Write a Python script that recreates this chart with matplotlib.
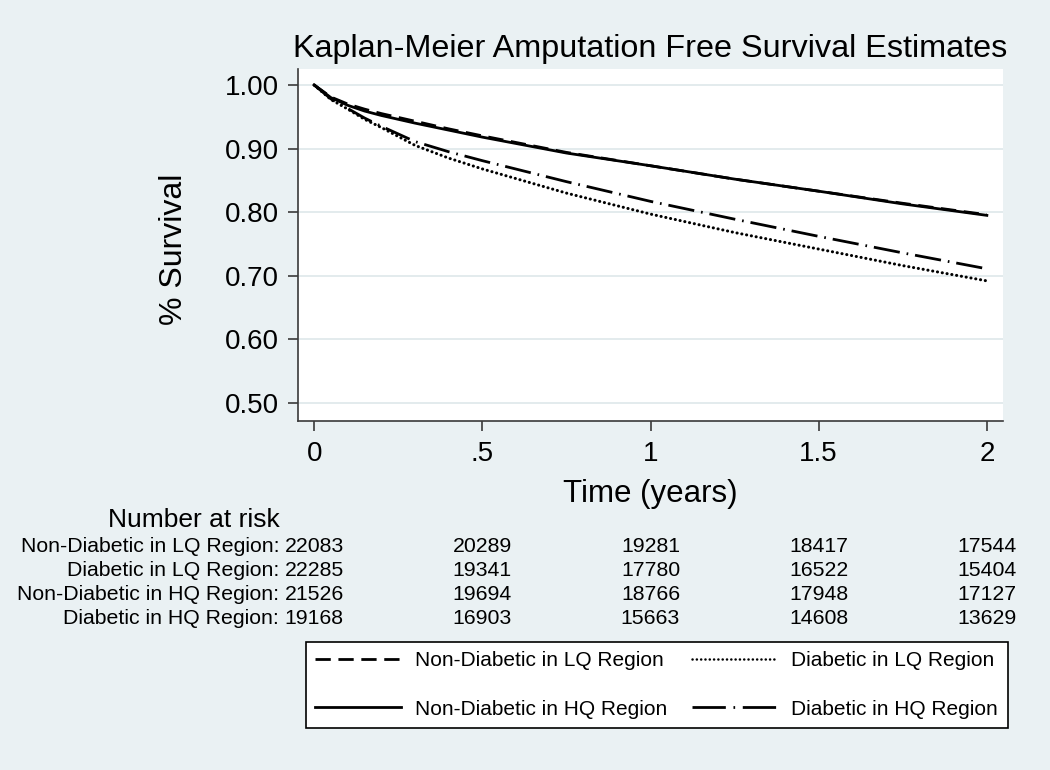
import matplotlib
matplotlib.use('Agg')
import matplotlib.pyplot as plt
import matplotlib.transforms as mtransforms
from matplotlib.lines import Line2D

plt.rcParams['font.family'] = ['Liberation Sans', 'DejaVu Sans']
plt.rcParams['lines.scale_dashes'] = False

# Tempo (anos) e sobrevida estimada
tempo = [0, 0.05, 0.1, 0.15, 0.2, 0.3, 0.4, 0.5, 0.75, 1.0, 1.25, 1.5, 1.75, 2.0]
surv_nd_lq = [1.000, 0.981, 0.970, 0.962, 0.955, 0.943, 0.931, 0.920, 0.894, 0.873, 0.852, 0.833, 0.814, 0.796]
surv_d_lq = [1.000, 0.977, 0.962, 0.946, 0.933, 0.905, 0.885, 0.868, 0.830, 0.797, 0.768, 0.742, 0.716, 0.692]
surv_nd_hq = [1.000, 0.980, 0.968, 0.959, 0.952, 0.940, 0.929, 0.918, 0.893, 0.873, 0.852, 0.833, 0.813, 0.795]
surv_d_hq = [1.000, 0.978, 0.963, 0.948, 0.935, 0.911, 0.895, 0.881, 0.848, 0.817, 0.789, 0.762, 0.736, 0.711]

grupos = ['Non-Diabetic in LQ Region', 'Diabetic in LQ Region',
          'Non-Diabetic in HQ Region', 'Diabetic in HQ Region']

# Numero em risco
tempos_risco = [0, 0.5, 1, 1.5, 2]
risco_nd_lq = [22083, 20289, 19281, 18417, 17544]
risco_d_lq = [22285, 19341, 17780, 16522, 15404]
risco_nd_hq = [21526, 19694, 18766, 17948, 17127]
risco_d_hq = [19168, 16903, 15663, 14608, 13629]

xticks = [0, 0.5, 1, 1.5, 2]
xtick_labels = ['0', '.5', '1', '1.5', '2']
yticks = [0.5, 0.6, 0.7, 0.8, 0.9, 1.0]

W, H = 1050, 770
fundo = '#eaf1f3'
cor_eixo = '#3a3a3a'

estilo_tracejado = (0, (11, 5.5))
estilo_pontilhado = (0, (0.1, 3.4))
estilo_traco_ponto = (0, (19, 5, 1.2, 5))

fig = plt.figure(figsize=(W / 100, H / 100), dpi=100, facecolor=fundo)
ax = fig.add_axes([298 / W, 1 - 421 / H, 705 / W, 352 / H])
ax.set_facecolor('white')

l1, = ax.plot(tempo, surv_nd_lq, color='black', lw=2.0, linestyle=estilo_tracejado)
l2, = ax.plot(tempo, surv_d_lq, color='black', lw=2.2, linestyle=estilo_pontilhado,
              dash_capstyle='round')
l3, = ax.plot(tempo, surv_nd_hq, color='black', lw=2.0, linestyle='-')
l4, = ax.plot(tempo, surv_d_hq, color='black', lw=2.0, linestyle=estilo_traco_ponto)

ax.set_xlim(-0.048, 2.048)
ax.set_ylim(0.4717, 1.0251)
ax.set_xticks(xticks)
ax.set_xticklabels(xtick_labels)
ax.set_yticks(yticks)
ax.set_yticklabels([f'{v:.2f}' for v in yticks])
ax.tick_params(axis='both', direction='out', length=7.5, width=1.2, color=cor_eixo,
               labelsize=20, labelcolor='black')
ax.tick_params(axis='x', pad=7)
ax.tick_params(axis='y', pad=6)
ax.grid(axis='y', color='#e1e9ec', lw=1.3)
ax.set_axisbelow(True)
for s in ['top', 'right']:
    ax.spines[s].set_visible(False)
for s in ['left', 'bottom']:
    ax.spines[s].set_color(cor_eixo)
    ax.spines[s].set_linewidth(1.2)

ax.set_title('Kaplan-Meier Amputation Free Survival Estimates', fontsize=23.3, pad=9)
fig.text(174 / W, 1 - 249 / H, '% Survival', rotation=90, ha='center', va='center', fontsize=23)
fig.text(650 / W, 1 - 502 / H, 'Time (years)', ha='center', va='baseline', fontsize=22.5)

# Tabela de numero em risco
trans = mtransforms.blended_transform_factory(ax.transData, fig.transFigure)
trans_lab = mtransforms.offset_copy(trans, fig=fig, x=-35, y=0, units='dots')
fig.text(194 / W, 1 - 527 / H, 'Number at risk', ha='center', va='baseline', fontsize=19)
linhas_risco = [risco_nd_lq, risco_d_lq, risco_nd_hq, risco_d_hq]
baselines = [552, 576, 600, 624]
for nome, valores, yb in zip(grupos, linhas_risco, baselines):
    yf = 1 - yb / H
    ax.text(0, yf, nome + ':', transform=trans_lab, ha='right', va='baseline', fontsize=15.3)
    for t, n in zip(tempos_risco, valores):
        ax.text(t, yf, str(n), transform=trans, ha='center', va='baseline', fontsize=15.3)

# Legenda com amostras de linha proprias
h1 = Line2D([], [], color='black', lw=2.0, linestyle=estilo_tracejado)
h2 = Line2D([], [], color='black', lw=1.8, linestyle=(0, (0.1, 3.0)), dash_capstyle='round')
h3 = Line2D([], [], color='black', lw=2.0, linestyle='-')
h4 = Line2D([], [], color='black', lw=2.0, linestyle=(0, (24, 5.5, 1.2, 5.5)))
leg = fig.legend([h1, h3, h2, h4], [grupos[0], grupos[2], grupos[1], grupos[3]],
                 loc='upper left', bbox_to_anchor=(306 / W, 1 - 642 / H), ncol=2,
                 fontsize=15, frameon=True, fancybox=False, framealpha=1,
                 edgecolor='black', handlelength=4.1, handletextpad=0.67,
                 columnspacing=1.2, labelspacing=1.4, borderpad=0.45, borderaxespad=0)
leg.get_frame().set_linewidth(1.2)

fig.savefig('out.png', dpi=100, facecolor=fundo)
